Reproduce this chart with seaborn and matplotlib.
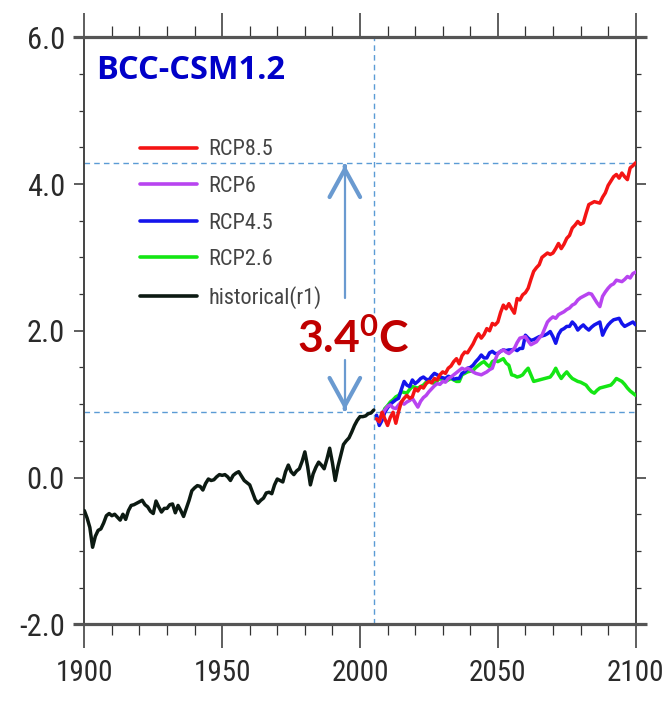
import numpy as np
import pandas as pd
import matplotlib
matplotlib.use("Agg")
import matplotlib.pyplot as plt
import matplotlib.ticker as mticker
from matplotlib import font_manager as fm
import seaborn as sns

# ---------------- data ----------------
hist_years = list(range(1900, 2006))
hist_vals = [
    -0.45, -0.55, -0.68, -0.95, -0.80, -0.72, -0.70, -0.62, -0.52, -0.49,
    -0.52, -0.50, -0.54, -0.58, -0.50, -0.57, -0.45, -0.38, -0.37, -0.35,
    -0.33, -0.31, -0.37, -0.40, -0.46, -0.49, -0.32, -0.40, -0.47, -0.42,
    -0.42, -0.37, -0.36, -0.48, -0.38, -0.45, -0.53, -0.42, -0.31, -0.18,
    -0.14, -0.11, -0.12, -0.17, -0.08, -0.02, -0.04, -0.03, 0.01, 0.04,
    0.03, 0.04, 0.01, -0.04, 0.03, 0.06, 0.08, 0.02, -0.04, -0.07,
    -0.10, -0.20, -0.30, -0.35, -0.31, -0.28, -0.21, -0.20, -0.22, -0.10,
    -0.02, -0.04, -0.06, 0.08, 0.17, 0.08, 0.04, 0.09, 0.12, 0.22,
    0.35, 0.15, -0.10, 0.05, 0.14, 0.21, 0.17, 0.12, 0.25, 0.40,
    0.20, -0.04, 0.15, 0.30, 0.45, 0.50, 0.54, 0.62, 0.71, 0.78,
    0.83, 0.83, 0.84, 0.87, 0.88, 0.92,
]

rcp_years = list(range(2006, 2101))
rcp85 = [
    0.80, 0.76, 0.89, 0.80, 0.71, 0.82, 0.89, 0.74, 0.90, 1.03,
    1.08, 1.12, 1.08, 1.10, 1.21, 1.18, 1.24, 1.22, 1.28, 1.31,
    1.29, 1.35, 1.33, 1.40, 1.44, 1.42, 1.49, 1.52, 1.58, 1.62,
    1.55, 1.66, 1.71, 1.70, 1.76, 1.82, 1.90, 1.96, 1.90, 1.95,
    2.03, 2.00, 2.10, 2.08, 2.12, 2.25, 2.35, 2.30, 2.37, 2.30,
    2.24, 2.44, 2.42, 2.49, 2.52, 2.58, 2.70, 2.81, 2.86, 2.90,
    3.00, 3.03, 3.06, 3.04, 3.06, 3.12, 3.19, 3.12, 3.18, 3.26,
    3.30, 3.40, 3.44, 3.49, 3.45, 3.47, 3.60, 3.72, 3.74, 3.76,
    3.75, 3.74, 3.82, 3.88, 3.98, 4.04, 4.10, 4.13, 4.08, 4.15,
    4.10, 4.06, 4.22, 4.25, 4.29,
]
rcp6 = [
    0.80, 0.76, 0.85, 0.92, 0.97, 0.99, 0.95, 0.94, 0.99, 1.03,
    1.00, 1.03, 1.05, 1.08, 1.02, 0.96, 1.04, 1.09, 1.12, 1.17,
    1.21, 1.25, 1.28, 1.27, 1.31, 1.30, 1.35, 1.37, 1.40, 1.43,
    1.46, 1.49, 1.47, 1.49, 1.47, 1.44, 1.42, 1.41, 1.40, 1.42,
    1.44, 1.47, 1.49, 1.60, 1.69, 1.72, 1.74, 1.71, 1.69, 1.72,
    1.76, 1.84, 1.90, 1.91, 1.92, 1.86, 1.81, 1.83, 1.85, 1.90,
    1.94, 2.03, 2.12, 2.16, 2.19, 2.17, 2.22, 2.24, 2.26, 2.29,
    2.31, 2.35, 2.37, 2.42, 2.45, 2.47, 2.49, 2.51, 2.50, 2.44,
    2.38, 2.33, 2.47, 2.53, 2.58, 2.62, 2.64, 2.69, 2.68, 2.67,
    2.70, 2.74, 2.72, 2.78, 2.80,
]
rcp45 = [
    0.85, 0.71, 0.78, 0.89, 0.95, 1.00, 1.03, 1.06, 1.08, 1.20,
    1.31, 1.26, 1.24, 1.33, 1.28, 1.31, 1.35, 1.37, 1.34, 1.33,
    1.38, 1.42, 1.40, 1.37, 1.36, 1.35, 1.38, 1.37, 1.34, 1.35,
    1.35, 1.42, 1.44, 1.49, 1.50, 1.53, 1.58, 1.62, 1.67, 1.63,
    1.63, 1.70, 1.72, 1.69, 1.69, 1.72, 1.74, 1.73, 1.74, 1.74,
    1.75, 1.73, 1.76, 1.76, 1.94, 1.90, 1.87, 1.88, 1.90, 1.92,
    1.93, 1.94, 1.96, 1.99, 1.92, 1.83, 1.95, 2.01, 2.03, 2.06,
    2.06, 2.12, 2.08, 2.01, 2.05, 2.08, 2.04, 2.01, 2.05, 2.08,
    2.10, 2.12, 1.94, 2.02, 2.08, 2.12, 2.15, 2.16, 2.17, 2.10,
    2.06, 2.08, 2.10, 2.12, 2.08,
]
rcp26 = [
    0.82, 0.78, 0.85, 0.94, 0.98, 1.03, 1.06, 1.10, 1.12, 1.17,
    1.16, 1.15, 1.20, 1.24, 1.23, 1.22, 1.24, 1.26, 1.30, 1.33,
    1.30, 1.28, 1.32, 1.35, 1.33, 1.31, 1.33, 1.35, 1.33, 1.31,
    1.31, 1.40, 1.42, 1.44, 1.45, 1.46, 1.50, 1.53, 1.56, 1.58,
    1.54, 1.51, 1.58, 1.60, 1.58, 1.60, 1.62, 1.56, 1.53, 1.40,
    1.39, 1.37, 1.38, 1.40, 1.45, 1.49, 1.40, 1.31, 1.32, 1.33,
    1.34, 1.35, 1.36, 1.37, 1.42, 1.49, 1.41, 1.35, 1.40, 1.44,
    1.39, 1.35, 1.33, 1.31, 1.30, 1.28, 1.26, 1.21, 1.17, 1.15,
    1.19, 1.22, 1.23, 1.24, 1.25, 1.26, 1.30, 1.35, 1.33, 1.31,
    1.27, 1.22, 1.18, 1.15, 1.12,
]

series_names = ["RCP8.5", "RCP6", "RCP4.5", "RCP2.6", "historical(r1)"]
series_colors = ["#F41414", "#B844F0", "#1414EC", "#14E614", "#0C1A12"]
x_ticks = [1900, 1950, 2000, 2050, 2100]
y_ticks = [-2.0, 0.0, 2.0, 4.0, 6.0]
model_name = "BCC-CSM1.2"
warming_label = "3.4$^{0}$C"
start_level = 0.90
end_level = 4.28
split_year = 2005

# ---------------- fonts ----------------
names = {f.name for f in fm.fontManager.ttflist}
narrow = None
for cand in ["Liberation Sans Narrow", "Roboto Condensed", "Open Sans Condensed",
             "Noto Sans Condensed", "DejaVu Sans Condensed"]:
    if cand in names:
        narrow = cand
        break
stretch = "normal"
if narrow is None:
    narrow = "DejaVu Sans"
    stretch = "condensed"
bold_font = "Lato" if "Lato" in names else "DejaVu Sans"
title_font = "Open Sans" if "Open Sans" in names else "DejaVu Sans"

sns.set_theme(style="white")
plt.rcParams["font.family"] = [narrow, "DejaVu Sans"]
plt.rcParams["font.stretch"] = stretch
plt.rcParams["axes.unicode_minus"] = False
plt.rcParams["mathtext.fontset"] = "custom"
plt.rcParams["mathtext.rm"] = f"{bold_font}:bold"
plt.rcParams["mathtext.it"] = f"{bold_font}:bold"
plt.rcParams["mathtext.bf"] = f"{bold_font}:bold"

# ---------------- frame ----------------
frames = [pd.DataFrame({"year": hist_years, "value": hist_vals, "scenario": "historical(r1)"})]
for nm, vals in zip(series_names[:4], [rcp85, rcp6, rcp45, rcp26]):
    frames.append(pd.DataFrame({"year": rcp_years, "value": vals, "scenario": nm}))
df = pd.concat(frames, ignore_index=True)

fig = plt.figure(figsize=(6.65, 7.06), dpi=100)
ax = fig.add_axes([0.1268, 0.1157, 0.8291, 0.8315])

# reference lines (behind data)
dash_col = "#5B9BD5"
ax.axhline(end_level, color=dash_col, lw=1.0, ls=(0, (4, 3)), zorder=1)
ax.axhline(start_level, color=dash_col, lw=1.0, ls=(0, (4, 3)), zorder=1)
ax.axvline(split_year, color=dash_col, lw=1.0, ls=(0, (4, 3)), zorder=1)

plot_order = ["historical(r1)", "RCP2.6", "RCP4.5", "RCP6", "RCP8.5"]
pal = dict(zip(series_names, series_colors))
sns.lineplot(data=df, x="year", y="value", hue="scenario", hue_order=plot_order,
             palette=pal, estimator=None, linewidth=2.5, ax=ax, legend=True, zorder=3)

handles, labels = ax.get_legend_handles_labels()
hmap = dict(zip(labels, handles))
leg = ax.legend([hmap[n] for n in series_names], series_names,
                loc="upper left", bbox_to_anchor=(0.101, 0.826), frameon=False,
                prop={"size": 16, "stretch": stretch},
                handlelength=2.57, handletextpad=0.5,
                labelspacing=0.70, borderpad=0, borderaxespad=0)
for t in leg.get_texts():
    t.set_color("#444444")
for l in leg.get_lines():
    l.set_linewidth(2.6)

ax.set_xlim(1900, 2100)
ax.set_ylim(-2, 6)
ax.set_xlabel("")
ax.set_ylabel("")
ax.set_xticks(x_ticks)
ax.set_yticks(y_ticks)
ax.xaxis.set_minor_locator(mticker.MultipleLocator(10))
ax.yaxis.set_minor_locator(mticker.MultipleLocator(0.5))
ax.yaxis.set_major_formatter(mticker.FormatStrFormatter("%.1f"))
ax.tick_params(axis="x", which="major", direction="out", length=17, width=1.1,
               color="#333333", top=True, bottom=True, labeltop=False,
               labelsize=21, labelcolor="#2a2a2a", pad=8)
ax.tick_params(axis="x", which="minor", direction="out", length=8, width=0.9,
               color="#333333", top=True, bottom=True)
ax.tick_params(axis="y", which="major", direction="out", length=7, width=1.1,
               color="#333333", left=True, right=True, labelright=False,
               labelsize=22, labelcolor="#2a2a2a", pad=7)
ax.tick_params(axis="y", which="minor", direction="out", length=3.5, width=0.9,
               color="#333333", left=True, right=True)
for lab in ax.get_xticklabels() + ax.get_yticklabels():
    lab.set_fontstretch(stretch)

for side in ["left", "right"]:
    ax.spines[side].set_color("#444444")
    ax.spines[side].set_linewidth(1.4)
for side in ["top", "bottom"]:
    ax.spines[side].set_visible(False)
for yy in (0, 1):
    ax.plot([-0.021, 1.021], [yy, yy], transform=ax.transAxes, clip_on=False,
            color="#555555", lw=2.3, zorder=5, solid_capstyle="butt")

# title
ax.text(0.022, 0.972, model_name, transform=ax.transAxes, ha="left", va="top",
        fontsize=23.5, fontweight="bold", color="#0000C8", family=title_font)

# double arrow
arrow_x = 1994.5
arr_col = "#6A9AD0"
ax.plot([arrow_x, arrow_x], [end_level - 0.02, 2.45], color=arr_col, lw=1.6, zorder=4)
ax.plot([arrow_x, arrow_x], [1.60, start_level + 0.02], color=arr_col, lw=1.6, zorder=4)
head = dict(arrowstyle="->,head_length=1.0,head_width=0.55", lw=3.0, color=arr_col,
            mutation_scale=20, shrinkA=0, shrinkB=0)
ax.annotate("", xy=(arrow_x, end_level - 0.02), xytext=(arrow_x, end_level - 0.04), arrowprops=head, zorder=4)
ax.annotate("", xy=(arrow_x, start_level + 0.02), xytext=(arrow_x, start_level + 0.04), arrowprops=head, zorder=4)

ax.text(1977.0, 1.70, warming_label, ha="left", va="baseline", fontsize=32,
        fontweight="bold", color="#C00000", family=bold_font, zorder=6)

fig.savefig("out.png", dpi=100)
